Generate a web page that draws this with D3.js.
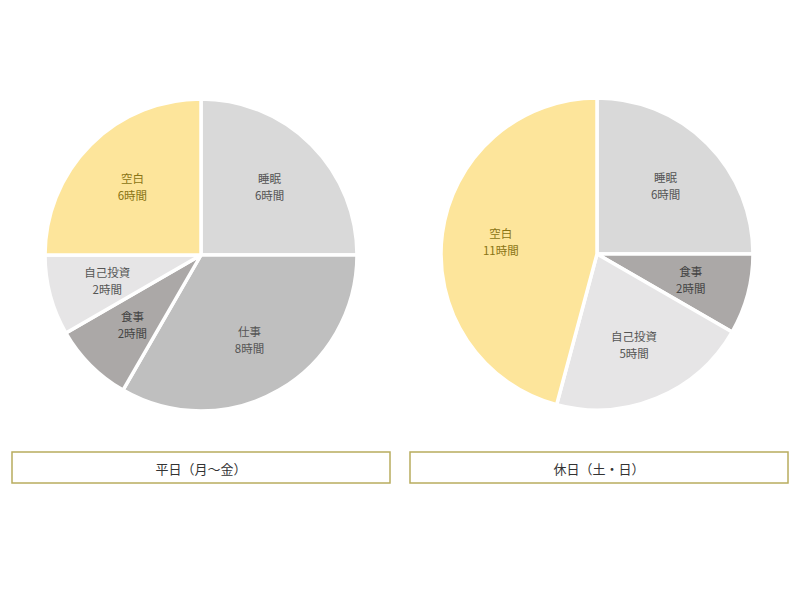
<!DOCTYPE html>
<html>
<head>
<meta charset="utf-8">
<script src="https://cdn.jsdelivr.net/npm/d3@7"></script>
<style>
  html, body { margin: 0; padding: 0; background: #ffffff; }
  svg { display: block; }
</style>
</head>
<body>
<svg id="chart" width="800" height="600"></svg>
<script>
const categories = ["睡眠", "仕事", "食事", "自己投資", "空白"];
const weekdayHours = [6, 8, 2, 2, 6];
const holidayCategories = ["睡眠", "食事", "自己投資", "空白"];
const holidayHours = [6, 2, 5, 11];
const panelTitles = ["平日（月〜金）", "休日（土・日）"];
const unitLabel = "時間";

const colorScale = d3.scaleOrdinal()
  .domain(["睡眠", "仕事", "食事", "自己投資", "空白"])
  .range(["#d9d9d9", "#bfbfbf", "#aba8a7", "#e6e5e6", "#fde59b"]);
const textColor = d3.scaleOrdinal()
  .domain(["睡眠", "仕事", "食事", "自己投資", "空白"])
  .range(["#555555", "#555555", "#444444", "#555555", "#8a7414"]);

const svg = d3.select("#chart");
const font = "'Noto Sans CJK JP', 'Noto Sans', sans-serif";

const panels = [
  { cats: categories, vals: weekdayHours, cx: 201, cy: 255, title: panelTitles[0], bx: 12 },
  { cats: holidayCategories, vals: holidayHours, cx: 597, cy: 254, title: panelTitles[1], bx: 410 }
];

const R = 156;
const pie = d3.pie().sort(null).value(d => d.v);
const arc = d3.arc().innerRadius(0).outerRadius(R);
const labelArc = d3.arc().innerRadius(97).outerRadius(97);

panels.forEach(p => {
  const data = p.cats.map((c, i) => ({ c, v: p.vals[i] }));
  const g = svg.append("g").attr("transform", `translate(${p.cx},${p.cy})`);
  const arcs = pie(data);
  g.selectAll("path").data(arcs).join("path")
    .attr("d", arc)
    .attr("fill", d => colorScale(d.data.c))
    .attr("stroke", "#ffffff")
    .attr("stroke-width", 3.5)
    .attr("stroke-linejoin", "round");
  const lg = g.selectAll("g.lbl").data(arcs).join("g")
    .attr("class", "lbl")
    .attr("transform", d => `translate(${labelArc.centroid(d)})`);
  lg.append("text")
    .attr("y", -8)
    .attr("dominant-baseline", "central")
    .attr("text-anchor", "middle")
    .attr("font-family", font)
    .attr("font-size", 11.5)
    .attr("fill", d => textColor(d.data.c))
    .text(d => d.data.c);
  lg.append("text")
    .attr("y", 9)
    .attr("dominant-baseline", "central")
    .attr("text-anchor", "middle")
    .attr("font-family", font)
    .attr("font-size", 11.5)
    .attr("fill", d => textColor(d.data.c))
    .text(d => d.data.v + unitLabel);

  svg.append("rect")
    .attr("x", p.bx).attr("y", 452)
    .attr("width", 378).attr("height", 31)
    .attr("fill", "#ffffff")
    .attr("stroke", "#b8ac5e")
    .attr("stroke-width", 1.5);
  svg.append("text")
    .attr("x", p.bx + 189).attr("y", 468)
    .attr("dominant-baseline", "central")
    .attr("text-anchor", "middle")
    .attr("font-family", font)
    .attr("font-size", 13)
    .attr("fill", "#333333")
    .text(p.title);
});
</script>
</body>
</html>
